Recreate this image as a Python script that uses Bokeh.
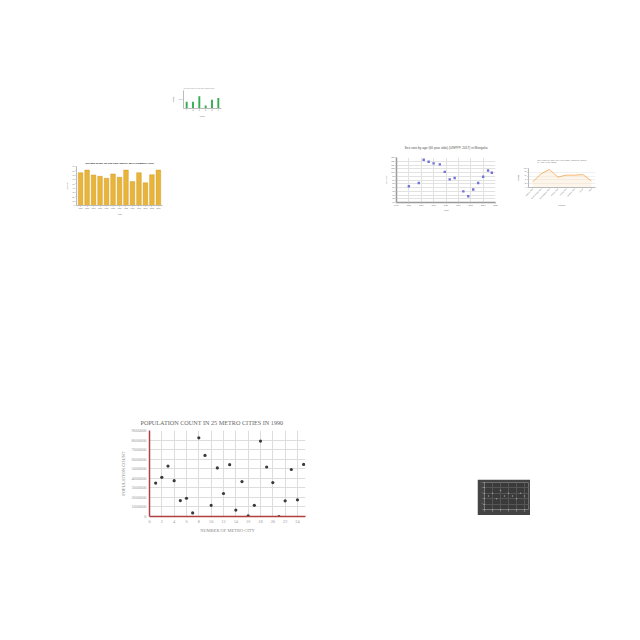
from bokeh.plotting import figure
from bokeh.layouts import column, row
from bokeh.models import Spacer, FixedTicker, NumeralTickFormatter
from bokeh.embed import file_html
from bokeh.resources import INLINE

# ---------------- data ----------------
# chart 1 (green bars)
c1_cats = ["A", "B", "C", "D", "E", "F"]
c1_vals = [75, 75, 136, 33, 96, 118]
c1_ticks = [100]

# chart 2 (Eastern Africa bars)
c2_years = ["1950", "1955", "1960", "1965", "1970", "1975", "1980", "1985", "1990", "1995", "2000", "2005", "2010"]
c2_vals = [75.7, 81.8, 70.5, 67.4, 62.9, 72.7, 65.2, 81.8, 55.3, 75.7, 52.3, 71.2, 81.8]
c2_ticks = list(range(0, 91, 10))

# chart 3 (Mongolia scatter)
c3_years = [1950, 1958, 1962, 1966, 1970, 1975, 1979, 1983, 1987, 1994, 1998, 2002, 2006, 2010, 2014, 2017]
c3_vals = [81.7, 86.1, 117.0, 114.3, 112.2, 110.9, 100.9, 90.9, 92.6, 74.8, 68.3, 77.4, 86.1, 94.3, 102.6, 99.6]
c3_xticks = list(range(1940, 2021, 10))
c3_yticks = list(range(60, 121, 5))

# chart 4 (Asia line)
c4_cats = ["Eastern Asia", "South-Central Asia", "South-Eastern Asia", "Western Asia",
           "Central Asia", "Southern Asia", "Other", "Asia"]
c4_vals = [30, 72, 95, 55, 65, 65, 68, 35]

# chart 5 (population count)
c5_city = list(range(1, 26))
c5_pop = [3500000, 4100000, 5280000, 3750000, 1670000, 1910000, 370000, 8230000, 6390000, 1170000,
          5080000, 2410000, 5420000, 670000, 3650000, 70000, 1170000, 7890000, 5180000, 3550000,
          0, 1640000, 4920000, 1740000, 5450000]
c5_xticks = list(range(0, 25, 2))
c5_yticks = list(range(0, 9000001, 1000000))

# chart 6 (dark scatter)
c6_x = [1, 2, 3, 4, 5, 6, 7, 8, 9, 10]
c6_y = [5, 6, 4, 7, 5, 6, 5, 4, 6, 5]


def tiny(p, fs="3px", afs=None):
    p.toolbar_location = None
    for ax in p.axis:
        ax.major_label_text_font_size = fs
        ax.axis_label_text_font_size = afs or fs
        ax.major_tick_out = 1
        ax.major_tick_in = 0
        ax.minor_tick_out = 0
        ax.minor_tick_in = 0
        ax.axis_label_standoff = 1
        ax.major_label_standoff = 1
        ax.major_label_text_color = "#666666"
        ax.axis_label_text_color = "#666666"
        ax.axis_label_text_font_style = "normal"
        ax.axis_line_color = "#bbbbbb"
        ax.major_tick_line_color = "#bbbbbb"
    p.outline_line_color = None
    p.title.standoff = 1
    return p

# ---------- chart 1 ----------
p1 = figure(x_range=c1_cats, width=52, height=37, output_backend="svg", toolbar_location=None,
            min_border_left=7, min_border_right=1, min_border_top=7, min_border_bottom=8,
            title="Sex ratio by age (60 year olds) (UNPPP, 2017)")
p1.vbar(x=c1_cats, top=c1_vals, width=0.3, fill_color="#2eaa4e", line_color=None,
        hatch_pattern="horizontal_line", hatch_color="#d8f0dc", hatch_scale=1.5, hatch_weight=0.35)
p1.y_range.start = 0
p1.y_range.end = 200
p1.yaxis.ticker = FixedTicker(ticks=c1_ticks)
p1.title.text_font_size = "1.5px"
p1.title.text_color = "#888"
p1.title.text_font_style = "normal"
p1.xgrid.grid_line_color = None
p1.ygrid.grid_line_color = None
p1.xaxis.axis_label = "Country"
p1.yaxis.axis_label = "Sex ratio"
tiny(p1, "1.5px")
p1.title.standoff = 2

# ---------- chart 2 ----------
p2 = figure(x_range=c2_years, width=102, height=59, output_backend="svg", toolbar_location=None,
            min_border_left=8, min_border_right=3, min_border_top=8, min_border_bottom=10,
            title="Sex ratio by age (60 year olds) (UNPPP, 2017) in Eastern Africa")
p2.vbar(x=c2_years, top=c2_vals, width=0.72, fill_color="#e8b43a", line_color="#c9921c", line_width=0.4)
p2.y_range.start = 0
p2.y_range.end = 90
p2.x_range.range_padding = 0.02
p2.yaxis.ticker = FixedTicker(ticks=c2_ticks)
p2.title.text_font_size = "2.3px"
p2.title.text_color = "#222"
p2.title.align = "center"
p2.xgrid.grid_line_color = None
p2.ygrid.grid_line_color = None
p2.xaxis.axis_label = "Years"
p2.yaxis.axis_label = "Sex ratio"
tiny(p2, "1.8px")
p2.title.standoff = 3

# ---------- chart 3 ----------
p3 = figure(width=131, height=79, output_backend="svg", toolbar_location=None,
            min_border_left=12, min_border_right=17, min_border_top=22, min_border_bottom=11,
            title="Sex ratio by age (60 year olds) (UNPPP, 2017) in Mongolia",
            x_range=(1940, 2020), y_range=(60, 120))
p3.scatter(c3_years, c3_vals, size=2.4, marker="square", fill_color="#7474d6", line_color=None)
p3.xaxis.ticker = FixedTicker(ticks=c3_xticks)
p3.yaxis.ticker = FixedTicker(ticks=c3_yticks)
p3.title.text_font_size = "3.2px"
p3.title.text_color = "#555"
p3.title.text_font_style = "normal"
p3.title.align = "center"
p3.xgrid.grid_line_color = "#e2e2e2"
p3.ygrid.grid_line_color = "#e2e2e2"
p3.xaxis.axis_label = "Years"
p3.yaxis.axis_label = "Sex ratio"
tiny(p3, "2px")
p3.title.standoff = 15
for ax in p3.axis:
    ax.axis_line_color = "#999999"
    ax.axis_line_width = 1.5

# ---------- chart 4 ----------
p4 = figure(x_range=c4_cats, width=85, height=69, output_backend="svg", toolbar_location=None,
            min_border_left=9, min_border_right=5, min_border_top=22, min_border_bottom=28,
            title="Sex ratio by age (60 year olds) (UNPPP, 2017)\nin Asia Year: 2005")
p4.varea(x=c4_cats, y1=0, y2=c4_vals, fill_color="#fbe3c4", fill_alpha=0.35)
p4.line(c4_cats, c4_vals, line_color="#f3a64b", line_width=0.8)
p4.y_range.start = 0
p4.y_range.end = 100
p4.x_range.range_padding = 0
p4.title.text_font_size = "2.4px"
p4.title.text_color = "#777"
p4.title.text_font_style = "normal"
p4.title.align = "center"
p4.xaxis.major_label_orientation = 0.8
p4.xgrid.grid_line_color = None
p4.ygrid.grid_line_color = "#f0f0f0"
p4.xaxis.axis_label = "Countries"
p4.yaxis.axis_label = "Sex ratio"
tiny(p4, "1.6px")
p4.title.standoff = 9

# ---------- chart 5 ----------
p5 = figure(width=200, height=124, output_backend="svg", toolbar_location=None,
            x_range=(0, 25.3), y_range=(0, 9000000),
            min_border_left=39, min_border_right=5, min_border_top=15, min_border_bottom=19,
            title="POPULATION COUNT IN 25 METRO CITIES IN 1990")
p5.scatter(c5_city, c5_pop, size=3.2, fill_color="#3a3a3a", line_color=None)
p5.xaxis.ticker = FixedTicker(ticks=c5_xticks)
p5.yaxis.ticker = FixedTicker(ticks=c5_yticks)
p5.yaxis.formatter = NumeralTickFormatter(format="0")
p5.title.text_font = "Liberation Serif"
p5.title.text_font_style = "normal"
p5.title.text_font_size = "6.2px"
p5.title.text_color = "#666666"
p5.title.align = "left"
p5.title.offset = -9
p5.xaxis.axis_label = "NUMBER OF METRO CITY"
p5.yaxis.axis_label = "POPULATION COUNT"
for ax in p5.axis:
    ax.axis_line_color = "#b04040"
    ax.axis_line_width = 1.5
    ax.major_tick_line_color = None
    ax.minor_tick_line_color = None
    ax.major_tick_out = 0
    ax.major_tick_in = 0
    ax.minor_tick_out = 0
    ax.minor_tick_in = 0
    ax.major_label_text_font = "Liberation Serif"
    ax.axis_label_text_font = "Liberation Serif"
    ax.axis_label_text_font_style = "normal"
    ax.major_label_text_color = "#999999"
    ax.axis_label_text_color = "#888888"
    ax.major_label_text_font_size = "4.3px"
    ax.axis_label_text_font_size = "4.5px"
    ax.axis_label_standoff = 2
    ax.major_label_standoff = 3
p5.xgrid.grid_line_color = "#dddddd"
p5.ygrid.grid_line_color = "#dddddd"
p5.outline_line_color = None

# ---------- chart 6 ----------
p6 = figure(width=53, height=36, output_backend="svg", toolbar_location=None,
            min_border_left=6, min_border_right=2, min_border_top=3, min_border_bottom=5,
            x_range=(0, 11), y_range=(0, 10))
p6.scatter(c6_x, c6_y, size=1.5, fill_color="#999999", line_color=None)
p6.background_fill_color = "#3a3a3a"
p6.border_fill_color = "#444444"
p6.xgrid.grid_line_color = "#555555"
p6.ygrid.grid_line_color = "#555555"
tiny(p6, "1.5px")
for ax in p6.axis:
    ax.major_label_text_color = "#aaaaaa"
    ax.axis_line_color = "#777777"

layout = column(
    Spacer(height=83, width=10),
    row(Spacer(width=170, height=37), p1),
    Spacer(height=15, width=10),
    row(Spacer(width=63, height=10), column(Spacer(height=23, width=10), p2),
        Spacer(width=216, height=10), p3, Spacer(width=3, height=10),
        column(Spacer(height=11, width=10), p4)),
    Spacer(height=194, width=10),
    row(Spacer(width=110, height=10), p5, Spacer(width=167, height=10),
        column(Spacer(height=68, width=10), p6)),
)

open("out.html", "w").write(file_html(layout, INLINE))
